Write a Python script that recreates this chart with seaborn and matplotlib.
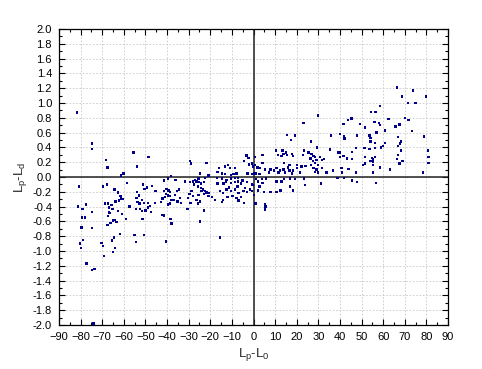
import numpy as np
import pandas as pd
import matplotlib
matplotlib.use("Agg")
import matplotlib.pyplot as plt
import seaborn as sns
from matplotlib.ticker import MultipleLocator

# Lp-L0 (x) and Lp-Ld (y) in four regions

far_left_x = [-81.8, -74.6, -74.7, -55.6, -48.5, -68.3, -67.5, -53.8, -60.1, -61.3,
              -80.7, -69.6, -67.8, -58.5, -64.4, -62.6, -61.6, -61.3, -53.9, -51.1,
              -49.3, -47.1, -50.5, -53.0, -54.2, -51.5,
              -81.2, -79.2, -77.5, -74.7, -79.4, -78.0, -79.5, -74.7, -78.8, -80.3,
              -79.7, -77.2, -73.5, -74.6, -74.0, -68.6, -67.3, -65.8, -66.9, -65.2,
              -67.0, -66.4, -67.2, -63.9, -62.2, -60.7, -62.8, -60.9, -64.4, -64.9,
              -66.1, -67.5, -63.3, -59.0, -61.8, -64.6, -65.6, -70.4, -69.6, -64.2,
              -64.9, -69.2, -57.3, -53.6, -52.8, -50.7, -48.8, -47.9, -54.4, -52.5,
              -51.6, -49.9, -47.4, -48.7, -51.3, -55.0, -50.8, -54.4]
far_left_y = [0.87, 0.45, 0.38, 0.33, 0.27, 0.23, 0.13, 0.14, 0.05, 0.02,
              -0.13, -0.13, -0.10, -0.08, -0.17, -0.21, -0.26, -0.29, -0.20, -0.10,
              -0.14, -0.12, -0.16, -0.25, -0.28, -0.31,
              -0.40, -0.43, -0.37, -0.47, -0.55, -0.55, -0.68, -0.69, -0.85, -0.90,
              -0.96, -1.17, -1.24, -1.26, -1.98, -0.36, -0.36, -0.38, -0.41, -0.43,
              -0.48, -0.49, -0.53, -0.33, -0.32, -0.30, -0.46, -0.50, -0.58, -0.59,
              -0.62, -0.65, -0.61, -0.57, -0.77, -0.82, -0.86, -0.89, -0.93, -0.96,
              -1.01, -1.07, -0.40, -0.34, -0.36, -0.35, -0.35, -0.39, -0.43, -0.43,
              -0.46, -0.45, -0.47, -0.41, -0.57, -0.78, -0.78, -0.88]

mid_left_x = [-29.4, -28.9, -21.7, -13.2, -11.9, -10.9, -8.6, -16.0, -16.6, -14.7,
              -13.2, -10.4, -9.2, -7.8, -4.3, -2.1, -0.8, -2.7, 0.1, -24.8,
              -20.9, -38.2, -39.7, -41.4, -36.0, -31.7, -29.4, -28.1, -27.1, -26.3,
              -25.5, -25.1, -27.4, -25.8, -24.3, -22.4, -22.8, -17.0, -14.7, -12.4,
              -10.4, -8.6, -7.1, -13.9, -12.8, -10.4, -8.6, -7.1, -5.0, -3.1,
              -5.7, -7.4, -11.3, -16.6, -3.9, -1.6, -0.6,
              -40.2, -39.4, -41.3, -38.6, -40.5, -39.7, -38.9, -40.9, -42.2, -38.2,
              -42.8, -39.7, -38.6, -45.3, -45.6,
              -35.5, -34.5, -36.3, -34.0, -35.1, -37.1, -33.5,
              -28.6, -29.7, -27.9, -30.2, -25.5, -26.3, -24.8, -25.8, -29.1,
              -24.3, -23.5, -22.4, -21.7, -20.6, -24.0, -22.8, -19.1, -17.8, -20.9,
              -15.5, -14.0, -12.4, -10.4, -8.6, -7.0, -4.7, -3.1, -0.8, -14.0,
              -12.0, -9.8, -7.8, -5.8, -14.7, -7.0, -4.3,
              -3.3, -2.4, -42.2, -41.3, -38.5, -37.9, -40.6, -30.5, -24.8, -22.8,
              -15.5]
mid_left_y = [0.22, 0.18, 0.19, 0.14, 0.16, 0.12, 0.12, 0.12, 0.07, 0.05,
              0.04, 0.03, 0.04, 0.05, 0.22, 0.17, 0.18, 0.05, 0.05, 0.05,
              0.02, 0.01, -0.02, -0.05, -0.04, -0.06, -0.07, -0.06, -0.04, -0.06,
              -0.02, -0.07, -0.10, -0.13, -0.09, -0.01, -0.07, -0.01, -0.02, -0.04,
              -0.02, -0.01, -0.01, -0.09, -0.07, -0.08, -0.07, -0.06, -0.05, -0.07,
              -0.09, -0.13, -0.14, -0.09, -0.15, -0.17, -0.10,
              -0.16, -0.18, -0.19, -0.20, -0.23, -0.25, -0.26, -0.27, -0.29, -0.31,
              -0.34, -0.37, -0.36, -0.19, -0.35,
              -0.19, -0.17, -0.24, -0.28, -0.33, -0.31, -0.35,
              -0.19, -0.23, -0.26, -0.28, -0.24, -0.31, -0.33, -0.36, -0.35,
              -0.15, -0.17, -0.19, -0.21, -0.22, -0.19, -0.23, -0.27, -0.31, -0.26,
              -0.19, -0.22, -0.17, -0.19, -0.17, -0.22, -0.19, -0.20, -0.19, -0.31,
              -0.27, -0.26, -0.28, -0.27, -0.34, -0.32, -0.35,
              0.29, 0.26, -0.51, -0.52, -0.57, -0.63, -0.87, -0.43, -0.60, -0.45,
              -0.82]

mid_right_x = [17.4, 26.6, 10.4, 13.5, 13.8, 15.0, 15.6, 13.0, 11.2, 17.7,
               18.4, 23.0, 23.5, 25.4, 26.9, 27.7, 28.5, 26.4, 29.2, 27.4,
               28.5, 30.8, 31.6, 32.6, 35.4, 4.1, 0.7, 4.2, 0.7, -0.1,
               1.8, 3.0, 5.3, 1.2, -0.8, 2.7,
               9.5, 10.7, 11.5, 12.3, 13.8, 14.6, 16.1, 16.6, 17.7, 18.4,
               20.2, 21.5, 14.2, 16.6, 20.0, 22.3, 24.1, 26.6, 27.7, 29.2,
               29.9, 31.8, 28.5, 29.9, 33.8, 36.9, 7.3, 7.9,
               1.2, 3.8, 5.8, 2.2, 4.2, -0.1, 2.7, 2.2, 4.9, 7.9,
               10.7, 13.0, 14.1, 16.9, 19.2, 23.4, 16.9, 18.4, 23.8, 31.2,
               38.8, 10.7, 12.5, 0.2,
               29.8, 23.1, 15.5, 19.3, 35.9, 29.4, 39.2, 39.9,
               1.0, 5.2, 5.5, 5.3]
mid_right_y = [0.50, 0.48, 0.36, 0.36, 0.31, 0.33, 0.30, 0.28, 0.30, 0.31,
               0.28, 0.30, 0.36, 0.33, 0.31, 0.28, 0.27, 0.25, 0.23, 0.22,
               0.19, 0.27, 0.23, 0.24, 0.37, 0.30, 0.27, 0.19, 0.16, 0.14,
               0.13, 0.12, 0.10, 0.05, 0.04, 0.04,
               0.09, 0.12, 0.06, 0.09, 0.10, 0.06, 0.13, 0.09, 0.05, 0.09,
               0.12, 0.06, 0.19, 0.16, 0.16, 0.14, 0.15, 0.16, 0.12, 0.10,
               0.16, 0.12, 0.07, 0.06, 0.06, 0.09, 0.06, 0.10,
               -0.03, -0.03, -0.02, -0.06, -0.08, -0.11, -0.13, -0.18, -0.20, -0.20,
               -0.06, -0.06, -0.03, -0.02, -0.03, -0.02, -0.13, -0.18, -0.11, -0.09,
               -0.01, -0.20, -0.18, -0.24,
               0.83, 0.73, 0.57, 0.56, 0.56, 0.40, 0.33, 0.27,
               -0.36, -0.37, -0.40, -0.44]

far_right_x = [66.5, 73.8, 68.6, 79.8, 71.5, 74.9, 58.5, 54.4, 56.4, 70.1,
               71.8, 45.3, 43.6, 41.6, 62.4, 55.9, 58.1, 58.5, 49.3, 51.6,
               67.5, 65.8, 60.9, 57.0, 73.3, 78.9, 47.8, 53.6, 54.2, 41.9,
               42.2, 40.0, 67.0, 54.2, 56.2, 68.3, 67.8, 67.0, 60.9, 59.8,
               59.0, 51.3, 47.4, 45.7, 53.6, 56.2, 80.7, 68.3, 67.0, 40.0,
               41.6, 43.4, 45.7, 51.6, 54.7, 55.2, 56.2, 66.5, 80.9,
               50.8, 51.6, 54.2, 55.4, 55.2, 58.6, 63.2, 67.5, 69.0, 80.9,
               78.3, 40.8, 43.9, 47.4, 55.4, 40.9, 41.9, 45.7, 48.0, 56.6]
far_right_y = [1.21, 1.17, 1.09, 1.09, 1.00, 1.00, 0.96, 0.88, 0.88, 0.80,
               0.77, 0.79, 0.77, 0.72, 0.78, 0.74, 0.73, 0.70, 0.72, 0.67,
               0.71, 0.68, 0.63, 0.60, 0.62, 0.55, 0.56, 0.56, 0.53, 0.55,
               0.52, 0.58, 0.54, 0.48, 0.46, 0.48, 0.45, 0.42, 0.46, 0.42,
               0.40, 0.39, 0.39, 0.34, 0.38, 0.39, 0.36, 0.36, 0.30, 0.33,
               0.28, 0.25, 0.24, 0.27, 0.26, 0.24, 0.27, 0.24, 0.27,
               0.16, 0.18, 0.22, 0.21, 0.16, 0.13, 0.10, 0.18, 0.22, 0.19,
               0.06, 0.12, 0.11, 0.06, 0.06, 0.06, -0.01, -0.05, -0.07, -0.08]

df = pd.DataFrame({
    "x": far_left_x + mid_left_x + mid_right_x + far_right_x,
    "y": far_left_y + mid_left_y + mid_right_y + far_right_y,
})

sns.set_style("white")
plt.rcParams["font.family"] = ["Liberation Sans", "DejaVu Sans"]
plt.rcParams["mathtext.default"] = "regular"

fig = plt.figure(figsize=(4.82, 3.69), dpi=100)
ax = fig.add_axes([59 / 482, 1 - 325 / 369, 389 / 482, 296 / 369])

ax.grid(True, which="major", color="#c8c8c8", linestyle=(0, (2, 2)), linewidth=0.6)
ax.set_axisbelow(True)

# zero lines
ax.axhline(0, color="#222222", linewidth=1.1, zorder=2)
ax.axvline(0, color="#222222", linewidth=1.1, zorder=2)

sns.scatterplot(data=df, x="x", y="y", ax=ax, marker="s", s=3,
                color="#00008B", edgecolor="none", linewidth=0, zorder=3)

ax.set_xlim(-90, 90)
ax.set_ylim(-2.0, 2.0)
ax.xaxis.set_major_locator(MultipleLocator(10))
ax.xaxis.set_minor_locator(MultipleLocator(5))
ax.yaxis.set_major_locator(MultipleLocator(0.2))
ax.yaxis.set_minor_locator(MultipleLocator(0.1))
ax.yaxis.set_major_formatter(matplotlib.ticker.FormatStrFormatter("%.1f"))

ax.tick_params(which="both", direction="in", top=True, right=True,
               bottom=True, left=True, labelsize=8, colors="black", pad=5)
ax.tick_params(which="major", length=4, width=0.8)
ax.tick_params(which="minor", length=2.5, width=0.8)

for sp in ax.spines.values():
    sp.set_color("black")
    sp.set_linewidth(0.9)

ax.set_xlabel("$L_p$-$L_0$", fontsize=9.5, labelpad=3)
ax.set_ylabel("$L_p$-$L_d$", fontsize=9.5, labelpad=3)

fig.savefig("out.png", dpi=100)
